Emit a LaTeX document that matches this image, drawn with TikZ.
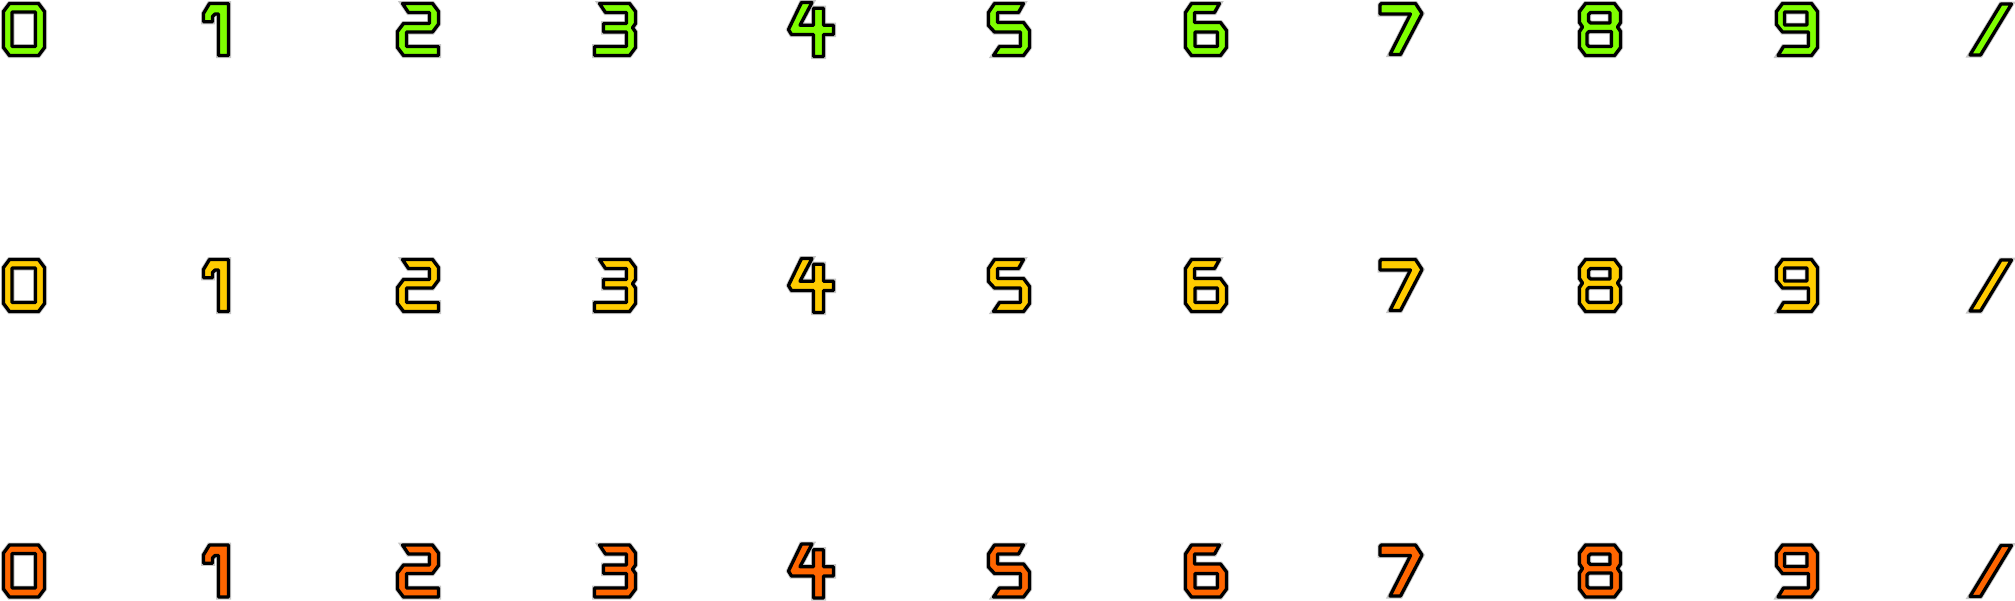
\documentclass[tikz,border=0pt]{standalone}
\usepackage{tikz}
\usepackage{xcolor}

\definecolor{digitgreen}{RGB}{127,255,0}
\definecolor{digityellow}{RGB}{255,204,0}
\definecolor{digitorange}{RGB}{255,102,0}

\tikzset{glyph/.style={draw=black, line width=3.3pt, line join=round, even odd rule, preaction={draw=gray!45, line width=5pt}}}

% outlines of the glyphs, 1pt = 1px, y pointing down
\newcommand{\digitzero}{(6,0)--(35,0)--(41,8)--(41,44)--(35,52)--(6,52)--(0,44)--(0,8)--cycle (8.5,8.5) rectangle (32,43)}
\newcommand{\digitone}{(9,0)--(28,0)--(28,52)--(18,52)--(18,10.5)--(14.5,10.5)--(12,13)--(12,18.3)--(3,18.3)--(3,10)--cycle}
\newcommand{\digittwo}{(5,0)--(35,0)--(41,8)--(41,20.5)--(35,28.5)--(9,28.5)--(9,43)--(41,43)--(41,52)--(6,52)--(0,44)--(0,28)--(6,20)--(32,20)--(32,9)--(11,9)--cycle}
\newcommand{\digitthree}{(5,0)--(35,0)--(41,8)--(41,20)--(38,24.2)--(41,28.5)--(41,44)--(35,52)--(0,52)--(0,43)--(32,43)--(32,28.5)--(9,28.5)--(9,20)--(32,20)--(32,9)--(11,9)--cycle}
\newcommand{\digitfour}{(10,-1)--(20.5,-1)--(8.5,21.7)--(22,21.7)--(22,4.7)--(32,4.7)--(32,21.7)--(42,21.7)--(42,31)--(32,31)--(32,53)--(22,53)--(22,31)--(0,31)--(-3,26)--cycle}
\newcommand{\digitfive}{(0,9)--(6,0)--(35,0)--(30,9)--(9,9)--(9,19)--(35,19)--(41,27)--(41,44)--(35,52)--(5,52)--(11,43)--(32,43)--(32,28.5)--(6,28.5)--(0,22)--cycle}
\newcommand{\digitsix}{(0,9)--(6,0)--(34,0)--(29,9)--(9,9)--(9,19)--(35,19)--(41,27)--(41,44)--(35,52)--(6,52)--(0,44)--cycle (9.5,28.5) rectangle (32,43)}
\newcommand{\digitseven}{(-2.5,1.5)--(-1,0)--(33,0)--(39.5,10)--(18,51)--(7.5,51)--(28,10.5)--(-2.5,10.5)--cycle}
\newcommand{\digiteight}{(0,8)--(6,0)--(35,0)--(41,8)--(41,19)--(38,23.5)--(41,28)--(41,44)--(35,52)--(6,52)--(0,44)--(0,28)--(3,23.5)--(0,19)--cycle
  (11,9)--(30.5,9)--(30.5,19.5)--(11,19.5)--(9,17.5)--(9,11)--cycle
  (9.5,28)--(32,28)--(32,43)--(9.5,43)--(7.5,41)--(7.5,30)--cycle}
\newcommand{\digitnine}{(0,8)--(6,0)--(35,0)--(41,8)--(41,44)--(35,52)--(1.5,52)--(7,43)--(32,43)--(32,28.5)--(6,28.5)--(0,21)--cycle (8,8.5) rectangle (30.5,21.5)}
\newcommand{\digitslash}{(27.5,0.5)--(38,0.5)--(7,51.5)--(-3.5,51.5)--cycle}

\begin{document}
\begin{tikzpicture}[x=1pt,y=-1pt]

\useasboundingbox (0,0) rectangle (2015,600);

\foreach \rowy/\rowcol in {3.5/digitgreen,259.5/digityellow,545/digitorange}
{
\begin{scope}[shift={(3.5,\rowy)}]
\draw[glyph,fill=\rowcol] \digitzero;
\draw[glyph,fill=\rowcol,xshift=197pt] \digitone;
\draw[glyph,fill=\rowcol,xshift=394pt] \digittwo;
\draw[glyph,fill=\rowcol,xshift=591pt] \digitthree;
\draw[glyph,fill=\rowcol,xshift=788pt] \digitfour;
\draw[glyph,fill=\rowcol,xshift=985pt] \digitfive;
\draw[glyph,fill=\rowcol,xshift=1182pt] \digitsix;
\draw[glyph,fill=\rowcol,xshift=1379pt] \digitseven;
\draw[glyph,fill=\rowcol,xshift=1576pt] \digiteight;
\draw[glyph,fill=\rowcol,xshift=1773pt] \digitnine;
\draw[glyph,fill=\rowcol,xshift=1970pt] \digitslash;
\end{scope}
}

\end{tikzpicture}
\end{document}
